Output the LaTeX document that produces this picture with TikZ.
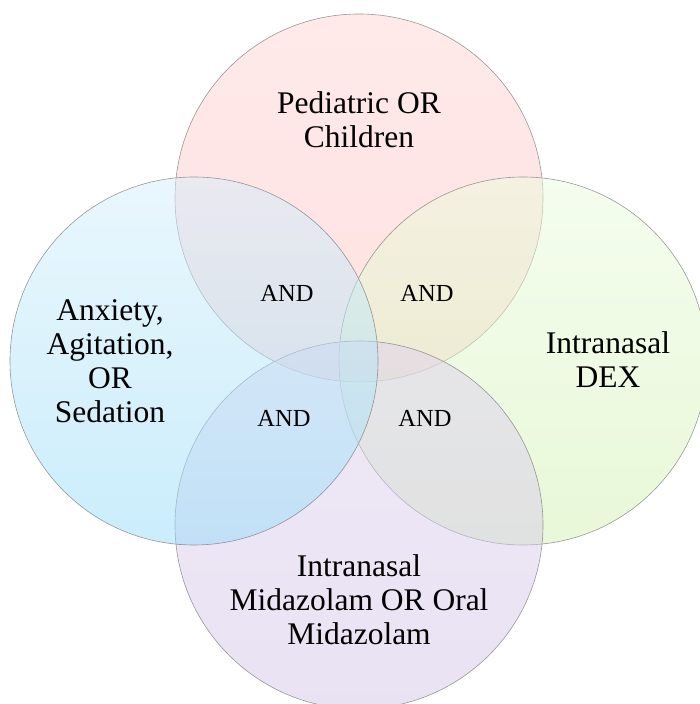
\documentclass[tikz,border=0pt]{standalone}
\usepackage{fontspec}
\setmainfont{Liberation Serif}
\begin{document}
\begin{tikzpicture}[x=1pt,y=1pt,
  venn/.style={draw=black!50, line width=0.6pt, fill opacity=0.5, draw opacity=0.8},
  lbl/.style={align=center, font=\fontsize{31.5}{34}\selectfont, text=black},
  andlbl/.style={font=\fontsize{24.5}{26}\selectfont, text=black}]
\useasboundingbox (0,0) rectangle (700,704);
\definecolor{pinkA}{RGB}{255,212,212}
\definecolor{pinkB}{RGB}{255,196,196}
\definecolor{blueA}{RGB}{213,239,251}
\definecolor{blueB}{RGB}{150,220,249}
\definecolor{greenA}{RGB}{235,252,222}
\definecolor{greenB}{RGB}{209,241,177}
\definecolor{lavA}{RGB}{222,210,238}
\definecolor{lavB}{RGB}{212,198,232}
\coordinate (ct) at (359,506);
\coordinate (cl) at (194,343);
\coordinate (cr) at (523,343);
\coordinate (cb) at (359,179);
\shade[venn, top color=pinkA, bottom color=pinkB] (ct) circle (184);
\shade[venn, top color=greenA, bottom color=greenB] (cr) circle (184);
\shade[venn, top color=lavA, bottom color=lavB] (cb) circle (184);
\shade[venn, top color=blueA, bottom color=blueB] (cl) circle (184);
\node[lbl] (tp) at (359,584) {Pediatric OR\\Children};
\node[lbl] (lf) at (110,343) {Anxiety,\\Agitation,\\OR\\Sedation};
\node[lbl] (rt) at (608,344) {Intranasal\\DEX};
\node[lbl] (bt) at (359,104) {Intranasal\\Midazolam OR Oral\\Midazolam};
\node[andlbl] (a1) at (287,411) {AND};
\node[andlbl] (a2) at (427,411) {AND};
\node[andlbl] (a3) at (284,286) {AND};
\node[andlbl] (a4) at (425,286) {AND};
\end{tikzpicture}
\end{document}
